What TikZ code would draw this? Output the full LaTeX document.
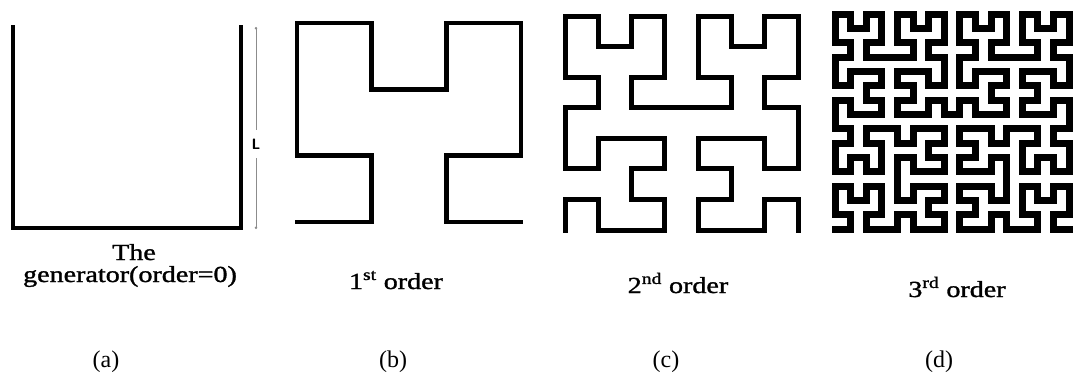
\documentclass[tikz,border=0pt]{standalone}
\usepackage{fontspec}
\setmainfont{Liberation Serif}
\newfontfamily\ordfont[FakeBold=1.2]{Liberation Serif}
\usetikzlibrary{lindenmayersystems,arrows.meta}
\pgfdeclarelindenmayersystem{Hilbert curve}{
  \rule{L -> +RF-LFL-FR+}
  \rule{R -> -LF+RFR+FL-}}
\begin{document}
\begin{tikzpicture}[x=1pt,y=1pt,
  curve/.style={line width=#1, line cap=rect, line join=miter, black},
  ordlbl/.style={font=\ordfont\fontsize{23}{26}\selectfont, inner sep=0, anchor=base},
  sublbl/.style={font=\fontsize{24}{28}\selectfont, inner sep=0, anchor=base},
  dimline/.style={line width=0.9pt, black!45}]
\useasboundingbox (0,0) rectangle (1075,-383);

% (a) generator
\coordinate (a1) at (13,-27);
\coordinate (a2) at (13,-228);
\coordinate (a3) at (241,-228);
\coordinate (a4) at (241,-27);
\draw[curve=4.7pt] (a1) -- (a2) -- (a3) -- (a4);

% dimension line L
\coordinate (dtop) at (256,-27);
\coordinate (dbot) at (256,-229);
\node[inner sep=0, minimum height=28pt, font=\sffamily\bfseries\fontsize{15}{16}\selectfont] (Lbl) at (256,-144) {L};
\draw[dimline, {Circle[length=2.4pt]}-] (dtop) -- (Lbl);
\draw[dimline, {Circle[length=2.4pt]}-] (dbot) -- (Lbl);

% (b) 1st order
\begin{scope}[shift={(297,-222)}, xscale=74.67, yscale=66.33]
\draw[curve=4.7pt, lindenmayer system={Hilbert curve, axiom=L, order=2, step=1pt, angle=90}] (0,0) lindenmayer system;
\end{scope}

% (c) 2nd order
\begin{scope}[shift={(565,-230)}, xscale=33.3, yscale=30.57]
\draw[curve=5pt, lindenmayer system={Hilbert curve, axiom=L, order=3, step=1pt, angle=90}] (0,0) lindenmayer system;
\end{scope}

% (d) 3rd order
\begin{scope}[shift={(835,-229)}, xscale=15.6, yscale=14.33]
\draw[curve=7pt, lindenmayer system={Hilbert curve, axiom=L, order=4, step=1pt, angle=90}] (0,0) lindenmayer system;
\end{scope}

% order labels
\node[ordlbl] (t1) at (134,-260) {\scalebox{1.22}[1]{The}};
\node[ordlbl] (t2) at (130,-282) {\scalebox{1.22}[1]{generator(order=0)}};
\node[ordlbl] (t3) at (396,-289) {\scalebox{1.22}[1]{1\textsuperscript{st} order}};
\node[ordlbl] (t4) at (678,-293) {\scalebox{1.22}[1]{2\textsuperscript{nd} order}};
\node[ordlbl] (t5) at (957,-297) {\scalebox{1.22}[1]{3\textsuperscript{rd} order}};

% sub-figure labels
\node[sublbl] (la) at (106,-367) {(a)};
\node[sublbl] (lb) at (393,-367) {(b)};
\node[sublbl] (lc) at (666,-367) {(c)};
\node[sublbl] (ld) at (939,-367) {(d)};
\end{tikzpicture}
\end{document}
